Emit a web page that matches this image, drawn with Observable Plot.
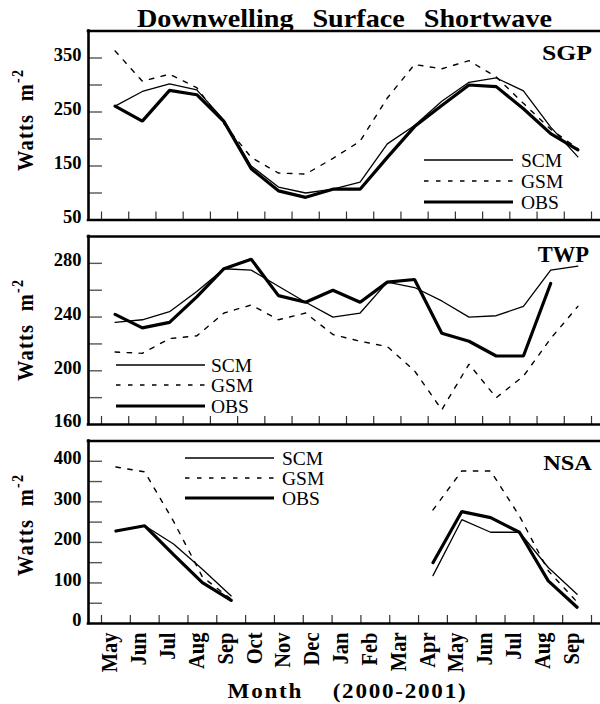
<!DOCTYPE html>
<html>
<head>
<meta charset="utf-8">
<script src="https://cdn.jsdelivr.net/npm/d3@7"></script>
<script src="https://cdn.jsdelivr.net/npm/@observablehq/plot@0.6"></script>
<style>
  html, body { margin: 0; padding: 0; background: #fff; }
  #wrap { position: relative; width: 600px; height: 704px; overflow: hidden; background: #fff; }
  #wrap svg { position: absolute; left: 0; }
</style>
</head>
<body>
<div id="wrap"></div>
<script>
// ---------------- data ----------------
const monthsModel = ["May","Jun","Jul","Aug","Sep","Oct","Nov","Dec","Jan","Feb","Mar","Apr","May","Jun","Jul","Aug","Sep","Oct"];
const monthsAxis = ["May","Jun","Jul","Aug","Sep","Oct","Nov","Dec","Jan","Feb","Mar","Apr","May","Jun","Jul","Aug","Sep"];

const sgpSCM = [261, 288, 302, 291, 235, 150, 111, 100, 107, 120, 191, 225, 270, 305, 313, 289, 222, 167];
const sgpGSM = [363, 307, 320, 295, 228, 166, 137, 135, 164, 196, 276, 338, 330, 345, 315, 266, 218, 182];
const sgpOBS = [261, 233, 290, 282, 232, 145, 104,  92, 107, 107, 166, 223, 262, 300, 297, 256, 210, 180];

const twpSCM = [236, 238, 244, 259, 276, 275, 263, 251, 240, 243, 266, 262, 252, 240, 241, 248, 275, 278];
const twpGSM = [214, 213, 224, 226, 243, 249, 238, 243, 227, 222, 218, 200, 171, 205, 180, 196, 224, 248];
const twpOBS = [242, 232, 236, 255, 276, 283, 256, 251, 260, 251, 266, 268, 228, 222, 211, 211, 265, null];

const nsaSCM = [228, 241, 196, 134, 68, null, null, null, null, null, null, 118, 256, 225, 225, 138, 72];
const nsaGSM = [386, 374, 252, 115, 60, null, null, null, null, null, null, 280, 376, 376, 265, 130, 53];
const nsaOBS = [228, 241, 170, 101, 57, null, null, null, null, null, null, 150, 276, 261, 225, 105, 40];

const sgpTicks = [100, 150, 200, 250, 300, 350];
const sgpLabels = [350, 250, 150, 50];
const twpTicks = [180, 200, 220, 240, 260, 280];
const twpLabels = [280, 240, 200, 160];
const nsaTicks = [50, 100, 150, 200, 250, 300, 350, 400];
const nsaLabels = [400, 300, 200, 100, 0];

const seriesNames = ["SCM", "GSM", "OBS"];

// ---------------- styles ----------------
const FONT = "'Liberation Serif', 'Times New Roman', serif";
const lineStyle = {
  SCM: {strokeWidth: 1.3},
  GSM: {strokeWidth: 1.4, strokeDasharray: "4.5,7.5"},
  OBS: {strokeWidth: 3.2}
};

const wrap = document.getElementById("wrap");

function rows(values) { return values.map((v, i) => ({x: i + 0.5, v})); }

// widen glyphs (the reference type is horizontally stretched)
function stretchTexts(root, selector, sx, sy) {
  root.querySelectorAll(selector).forEach(el => {
    let t = el.getAttribute("transform");
    if (!t) {
      const x = el.getAttribute("x") || 0, y = el.getAttribute("y") || 0;
      el.removeAttribute("x"); el.removeAttribute("y");
      t = `translate(${x},${y})`;
    }
    el.setAttribute("transform", `${t} scale(${sx},${sy})`);
  });
}

function makePanel(cfg) {
  const left = 88, firstTick = 101, lastTick = 591, W = 600;
  const step = (lastTick - firstTick) / cfg.n;
  const xDom = [(left - firstTick) / step, (W - firstTick) / step];
  const plotW = W - left;
  const plotH = cfg.height - cfg.mt - cfg.mb;
  const series = {SCM: cfg.scm, GSM: cfg.gsm, OBS: cfg.obs};
  const marks = [
    Plot.tickX(d3.range(cfg.n + 1), {x: d => d, insetTop: plotH - 8, stroke: "#333", strokeWidth: 1.2}),
    Plot.tickY(cfg.ticks, {y: d => d, insetRight: plotW - 14, stroke: "#555", strokeWidth: 1.4}),
    ...seriesNames.map(s => Plot.line(rows(series[s]), {x: "x", y: "v", stroke: "#000", strokeLinejoin: "miter", ...lineStyle[s]})),
    Plot.ruleY(cfg.yDomain, {stroke: "#000", strokeWidth: 2.6, strokeLinecap: "square"}),
    Plot.ruleX([xDom[0]], {stroke: "#000", strokeWidth: 2.6, strokeLinecap: "square"}),
    Plot.text(cfg.labels, {y: d => d, text: d => String(d), frameAnchor: "left", textAnchor: "end", dx: -7, dy: -3,
      fontSize: 18.5, fontWeight: "bold", fill: "#000", ariaLabel: "ytick-label"})
  ];
  if (cfg.months) {
    marks.push(Plot.axisX(d3.range(cfg.n).map(i => i + 0.5), {
      label: null, tickSize: 0, tickPadding: 9, tickRotate: -90,
      tickFormat: d => cfg.months[Math.floor(d)],
      fontSize: 20.5, fontWeight: "bold", fill: "#000", dx: -6
    }));
  }
  const svg = Plot.plot({
    width: W, height: cfg.height,
    marginLeft: left, marginRight: 0, marginTop: cfg.mt, marginBottom: cfg.mb,
    x: {domain: xDom, axis: null},
    y: {domain: cfg.yDomain, axis: null},
    style: {background: "transparent", overflow: "visible", fontFamily: FONT, color: "#000"},
    marks
  });
  svg.style.top = cfg.top + "px";
  wrap.appendChild(svg);
  stretchTexts(svg, 'g[aria-label="ytick-label"] text', 1.17, 1);
  stretchTexts(svg, 'g[aria-label="x-axis tick label"] text', 1, 1.15);
}

makePanel({top: 0, height: 225, mt: 30.5, mb: 5.5, n: 18, yDomain: [50, 400],
  ticks: sgpTicks, labels: sgpLabels, scm: sgpSCM, gsm: sgpGSM, obs: sgpOBS});
makePanel({top: 225, height: 205, mt: 11, mb: 6, n: 18, yDomain: [160, 300],
  ticks: twpTicks, labels: twpLabels, scm: twpSCM, gsm: twpGSM, obs: twpOBS});
makePanel({top: 430, height: 274, mt: 10.5, mb: 81, n: 17, yDomain: [0, 450],
  ticks: nsaTicks, labels: nsaLabels, scm: nsaSCM, gsm: nsaGSM, obs: nsaOBS, months: monthsAxis});

// ---------------- overlay: titles, panel names, legends ----------------
const ov = d3.select(wrap).append("svg")
  .attr("width", 600).attr("height", 704)
  .style("top", "0px").style("pointer-events", "none")
  .style("font-family", FONT);

ov.append("text")
  .attr("transform", "translate(344.5,27) scale(1.105,1)").attr("text-anchor", "middle")
  .attr("font-size", 25.5).attr("font-weight", "bold")
  .attr("word-spacing", "10.8px")
  .text("Downwelling Surface Shortwave");

ov.append("text")
  .attr("transform", "translate(347.5,698) scale(1.1,1)").attr("text-anchor", "middle")
  .attr("font-size", 21).attr("font-weight", "bold")
  .attr("letter-spacing", "1.6px").attr("word-spacing", "20px")
  .text("Month (2000-2001)");

// y-axis titles
[120, 330, 525].forEach(cy => {
  const t = ov.append("text")
    .attr("transform", `translate(33,${cy}) rotate(-90) scale(1,1.12)`)
    .attr("text-anchor", "middle")
    .attr("font-size", 20.5).attr("font-weight", "bold")
    .attr("letter-spacing", "1.2px");
  t.append("tspan").attr("xml:space", "preserve").text("Watts  m");
  t.append("tspan").attr("dy", -9).attr("font-size", 14).text("-2");
});

// panel names
const panelNames = [
  {name: "SGP", x: 592, y: 60, sx: 1.17, fs: 22},
  {name: "TWP", x: 589, y: 262, sx: 1.0, fs: 22.5},
  {name: "NSA", x: 592, y: 470, sx: 1.11, fs: 22}
];
panelNames.forEach(p => {
  ov.append("text").attr("transform", `translate(${p.x},${p.y}) scale(${p.sx},1)`).attr("text-anchor", "end")
    .attr("font-size", p.fs).attr("font-weight", "bold").text(p.name);
});

// legends
const legends = [
  {x1: 424, x2: 513, tx: 521, ys: [160, 181, 202]},
  {x1: 116, x2: 205, tx: 211, ys: [365, 385, 406]},
  {x1: 185, x2: 274, tx: 282, ys: [458, 478, 498]}
];
legends.forEach(L => {
  seriesNames.forEach((s, k) => {
    const st = lineStyle[s];
    ov.append("line").attr("x1", L.x1).attr("x2", L.x2).attr("y1", L.ys[k]).attr("y2", L.ys[k])
      .attr("stroke", "#000").attr("stroke-width", st.strokeWidth)
      .attr("stroke-dasharray", st.strokeDasharray || null);
    ov.append("text").attr("x", L.tx).attr("y", L.ys[k] + 7)
      .attr("font-size", 19.5).text(s);
  });
});
</script>
</body>
</html>
